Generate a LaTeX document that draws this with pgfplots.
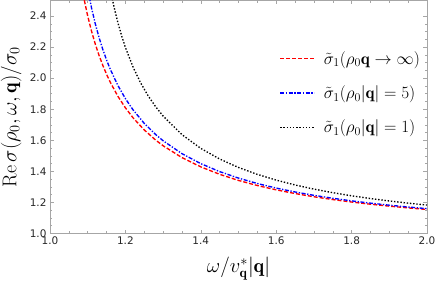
\documentclass[border=0pt]{standalone}
\usepackage{pgfplots}
\pgfplotsset{compat=1.18}
\usepackage{fontspec}
\newfontfamily\tickfont{DejaVu Sans}
\definecolor{cRed}{RGB}{255,0,0}
\definecolor{cBlue}{RGB}{0,0,255}
\protected\def\legA{$\tilde{\sigma}_1(\rho_0\mathbf{q}\to\infty)$}
\protected\def\legB{$\tilde{\sigma}_1(\rho_0\vert\mathbf{q}\vert=5)$}
\protected\def\legC{$\tilde{\sigma}_1(\rho_0\vert\mathbf{q}\vert=1)$}
\tikzset{
  sRed/.style={color=cRed, line width=1.35pt, dash pattern=on 4bp off 2bp},
  sBlue/.style={color=cBlue, line width=1.35pt, dash pattern=on 4bp off 1.6bp on 1.3bp off 1.6bp},
  sBlack/.style={color=black, line width=1.35pt, dash pattern=on 1.4bp off 1.8bp},
}
\begin{document}
\begin{tikzpicture}
\begin{axis}[
  scale only axis,
  width=377bp, height=233bp,
  xmin=1, xmax=2, ymin=1, ymax=2.5,
  xtick={1,1.2,1.4,1.6,1.8,2}, ytick={1,1.2,1.4,1.6,1.8,2,2.2,2.4},
  xticklabels={1.0,1.2,1.4,1.6,1.8,2.0},
  yticklabels={1.0,1.2,1.4,1.6,1.8,2.0,2.2,2.4},
  minor x tick num=3, minor y tick num=3,
  ticklabel style={font=\tickfont\fontsize{10.5}{12}\selectfont, text=black!85},
  axis line style={gray!70},
  tick style={gray!70, line width=0.5pt},
  major tick length=4bp, minor tick length=2.5bp,
  tick align=inside,
  xlabel={$\omega/v^*_{\mathbf{q}}|\mathbf{q}|$},
  ylabel={$\mathrm{Re}\,\sigma(\rho_0,\omega,\mathbf{q})/\sigma_0$},
  label style={font=\fontsize{20}{22}\selectfont},
  xlabel style={at={(0.5,0)}, anchor=north, yshift=-20bp},
  ylabel style={at={(0,0.5)}, anchor=south, yshift=25bp},
  legend style={draw=none, fill=none, at={(0.995,0.8)}, anchor=north east,
    font=\fontsize{17}{19}\selectfont, row sep=16bp},
  legend cell align=left,
  legend image code/.code={%
    \draw[#1] (0bp,0bp) -- (34bp,0bp);
    \path (41bp,0bp);},
  clip=true,
]
\addplot[sRed, forget plot] coordinates {
(1.085,2.5773)(1.09,2.5133)(1.10,2.4004)(1.11,2.3040)(1.12,2.2206)(1.13,2.1474)
(1.14,2.0827)(1.15,2.0250)(1.16,1.9732)(1.18,1.8837)(1.20,1.8091)(1.22,1.7457)
(1.25,1.6667)(1.28,1.6020)(1.30,1.5650)(1.35,1.4886)(1.40,1.4289)(1.45,1.3811)
(1.50,1.3416)(1.55,1.3088)(1.60,1.2810)(1.65,1.2572)(1.70,1.2365)(1.75,1.2185)
(1.80,1.2026)(1.85,1.1886)(1.90,1.1761)(1.95,1.1648)(2.00,1.1547)};
\addplot[sBlue, forget plot] coordinates {
(1.10,2.5749)(1.11,2.4540)(1.12,2.3513)(1.13,2.2627)(1.14,2.1855)(1.15,2.1173)
(1.16,2.0567)(1.18,1.9534)(1.20,1.8684)(1.22,1.7970)(1.25,1.7090)(1.28,1.6377)
(1.30,1.5972)(1.35,1.5141)(1.40,1.4498)(1.45,1.3985)(1.50,1.3566)(1.55,1.3218)
(1.60,1.2925)(1.65,1.2674)(1.70,1.2457)(1.75,1.2268)(1.80,1.2101)(1.85,1.1954)
(1.90,1.1823)(1.95,1.1706)(2.00,1.1600)};
\addplot[sBlack, forget plot] coordinates {
(1.16,2.5708)(1.17,2.4562)(1.18,2.3581)(1.19,2.2730)(1.20,2.1982)(1.22,2.0729)
(1.24,1.9715)(1.26,1.8875)(1.28,1.8167)(1.30,1.7561)(1.35,1.6365)(1.40,1.5479)
(1.45,1.4795)(1.50,1.4250)(1.55,1.3806)(1.60,1.3436)(1.65,1.3125)(1.70,1.2858)
(1.75,1.2628)(1.80,1.2427)(1.85,1.2251)(1.90,1.2094)(1.95,1.1955)(2.00,1.1830)};
\addlegendimage{sRed}
\addlegendentry{\legA}
\addlegendimage{sBlue}
\addlegendentry{\legB}
\addlegendimage{sBlack}
\addlegendentry{\legC}
\end{axis}
\pgfresetboundingbox
\path[use as bounding box] ([shift={(-50bp,-50bp)}]current axis.south west) rectangle ([shift={(9bp,0.5bp)}]current axis.north east);
\end{tikzpicture}
\end{document}
